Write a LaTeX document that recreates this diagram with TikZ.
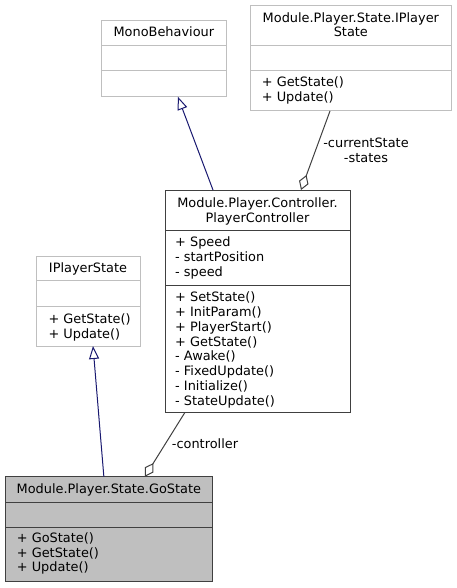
\documentclass[tikz,border=0pt]{standalone}
\usepackage{fontspec}
\setmainfont{DejaVu Sans}
\usetikzlibrary{arrows.meta}
\definecolor{edgeblue}{HTML}{191970}
\definecolor{edgegray}{HTML}{404040}
\definecolor{boxgray}{HTML}{BFBFBF}
\begin{document}
\begin{tikzpicture}[x=1pt,y=-1pt,
    font=\fontsize{12.9}{14.8}\selectfont,
    umlbox/.style={draw=#1,line width=1pt,inner sep=0pt,outer sep=0pt},
    members/.style={anchor=north west,align=left,inner sep=0pt},
    inherit/.style={edgeblue,line width=1pt,-{Triangle[open,length=13pt,width=10pt]}},
    aggr/.style={edgegray,line width=1pt,-{Diamond[open,length=16pt,width=10pt]}}]
  \useasboundingbox (0,0) rectangle (457,588);
  % MonoBehaviour
  \node[umlbox=boxgray,minimum width=124.3,minimum height=76] (mono) at (163.85,58.7) {};
  \draw[boxgray,line width=1pt] ([yshift=-25]mono.north west) -- ([yshift=-25]mono.north east)
      ([yshift=-50.3]mono.north west) -- ([yshift=-50.3]mono.north east);
  \node[anchor=base,inner sep=0pt] (mononame) at ([yshift=-16.3]mono.north) {MonoBehaviour};
  % Module.Player.State.IPlayerState
  \node[umlbox=boxgray,minimum width=201.7,minimum height=105] (ipstate) at (350.85,58.5) {};
  \draw[boxgray,line width=1pt] ([yshift=-39.7]ipstate.north west) -- ([yshift=-39.7]ipstate.north east)
      ([yshift=-65]ipstate.north west) -- ([yshift=-65]ipstate.north east);
  \node[anchor=north,align=center,inner sep=0pt] (ipstatename) at ([yshift=-6.2]ipstate.north)
      {Module.Player.State.IPlayer\\State};
  \node[members] (ipstateops) at ([xshift=11.7,yshift=-70.7]ipstate.north west)
      {+ GetState()\\+ Update()};
  % PlayerController
  \node[umlbox=edgegray,minimum width=185,minimum height=222.3] (ctrl) at (257.5,301.15) {};
  \draw[edgegray,line width=1pt] ([yshift=-40]ctrl.north west) -- ([yshift=-40]ctrl.north east)
      ([yshift=-95]ctrl.north west) -- ([yshift=-95]ctrl.north east);
  \node[anchor=north,align=center,inner sep=0pt] (ctrlname) at ([yshift=-7.2]ctrl.north)
      {Module.Player.Controller.\\PlayerController};
  \node[members] (ctrlattrs) at ([xshift=10,yshift=-46.7]ctrl.north west)
      {+ Speed\\- startPosition\\- speed};
  \node[members] (ctrlops) at ([xshift=10,yshift=-101.7]ctrl.north west)
      {+ SetState()\\+ InitParam()\\+ PlayerStart()\\+ GetState()\\- Awake()\\- FixedUpdate()\\- Initialize()\\- StateUpdate()};
  % IPlayerState
  \node[umlbox=boxgray,minimum width=104,minimum height=90] (iface) at (88,301) {};
  \draw[boxgray,line width=1pt] ([yshift=-24.7]iface.north west) -- ([yshift=-24.7]iface.north east)
      ([yshift=-50.7]iface.north west) -- ([yshift=-50.7]iface.north east);
  \node[anchor=base,inner sep=0pt] (ifacename) at ([yshift=-16]iface.north) {IPlayerState};
  \node[members] (ifaceops) at ([xshift=12.3,yshift=-57.3]iface.north west)
      {+ GetState()\\+ Update()};
  % GoState
  \node[umlbox=edgegray,fill=boxgray,minimum width=207.7,minimum height=105] (gostate) at (108.85,529.2) {};
  \draw[edgegray,line width=1pt] ([yshift=-25.6]gostate.north west) -- ([yshift=-25.6]gostate.north east)
      ([yshift=-50.6]gostate.north west) -- ([yshift=-50.6]gostate.north east);
  \node[anchor=base,inner sep=0pt] (gostatename) at ([yshift=-16.3]gostate.north) {Module.Player.State.GoState};
  \node[members] (gostateops) at ([xshift=11.7,yshift=-55.6]gostate.north west)
      {+ GoState()\\+ GetState()\\+ Update()};
  % connectors
  \draw[inherit] ([xshift=-44.5]ctrl.north) -- ([xshift=14]mono.south);
  \draw[aggr] ([xshift=-20.85]ipstate.south) -- ([xshift=43.5]ctrl.north);
  \draw[inherit] ([xshift=-5]gostate.north) -- ([xshift=5]iface.south);
  \draw[aggr] ([xshift=-72.5]ctrl.south) -- ([xshift=36]gostate.north);
  \node[anchor=north,align=center,inner sep=0pt] (statelabel) at (366,137.6) {-currentState\\-states};
  \node[anchor=west,inner sep=0pt] (ctrllabel) at (171.7,443.3) {-controller};
\end{tikzpicture}
\end{document}
